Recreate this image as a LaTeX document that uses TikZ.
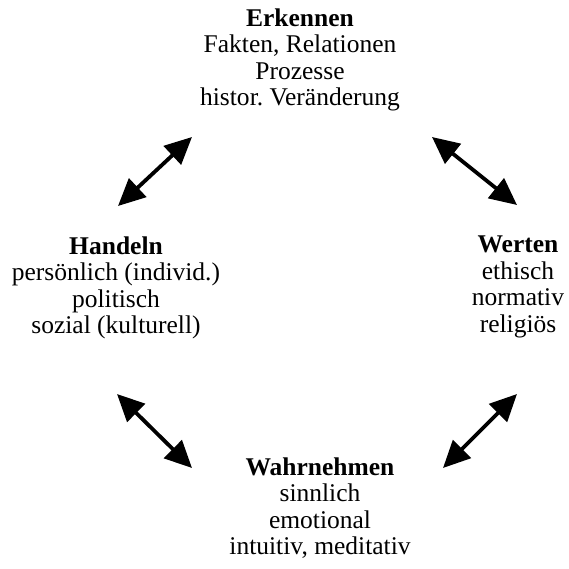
\documentclass[tikz,border=0pt]{standalone}
\usepackage{fontspec}
\setmainfont{Liberation Serif}
\usetikzlibrary{arrows.meta}
\begin{document}
\frenchspacing
\begin{tikzpicture}[x=1pt,y=-1pt,
  block/.style={align=center,inner sep=0pt,
    font=\fontsize{25.5}{26.5}\selectfont},
  link/.style={line width=3.8pt,{Triangle[length=27pt,width=25pt]}-{Triangle[length=27pt,width=25pt]}}]
  \useasboundingbox (0,0) rectangle (569,569);

  % the four aspects
  \node[block] (erk) at (300,60)
    {\textbf{Erkennen}\\Fakten, Relationen\\Prozesse\\histor.\ Veränderung};
  \node[block] (han) at (116,288)
    {\textbf{Handeln}\\persönlich (individ.)\\politisch\\sozial (kulturell)};
  \node[block] (wer) at (518,287)
    {\textbf{Werten}\\ethisch\\normativ\\religiös};
  \node[block] (wah) at (320,508)
    {\textbf{Wahrnehmen}\\sinnlich\\emotional\\intuitiv, meditativ};

  % arrow end points
  \coordinate (tl1) at (118,206);
  \coordinate (tl2) at (192,137);
  \coordinate (tr1) at (432,137);
  \coordinate (tr2) at (517,205);
  \coordinate (bl1) at (117,394);
  \coordinate (bl2) at (192,468);
  \coordinate (br1) at (517,394);
  \coordinate (br2) at (443,468);

  \draw[link] (tl1) -- (tl2);
  \draw[link] (tr1) -- (tr2);
  \draw[link] (bl1) -- (bl2);
  \draw[link] (br1) -- (br2);
\end{tikzpicture}
\end{document}
